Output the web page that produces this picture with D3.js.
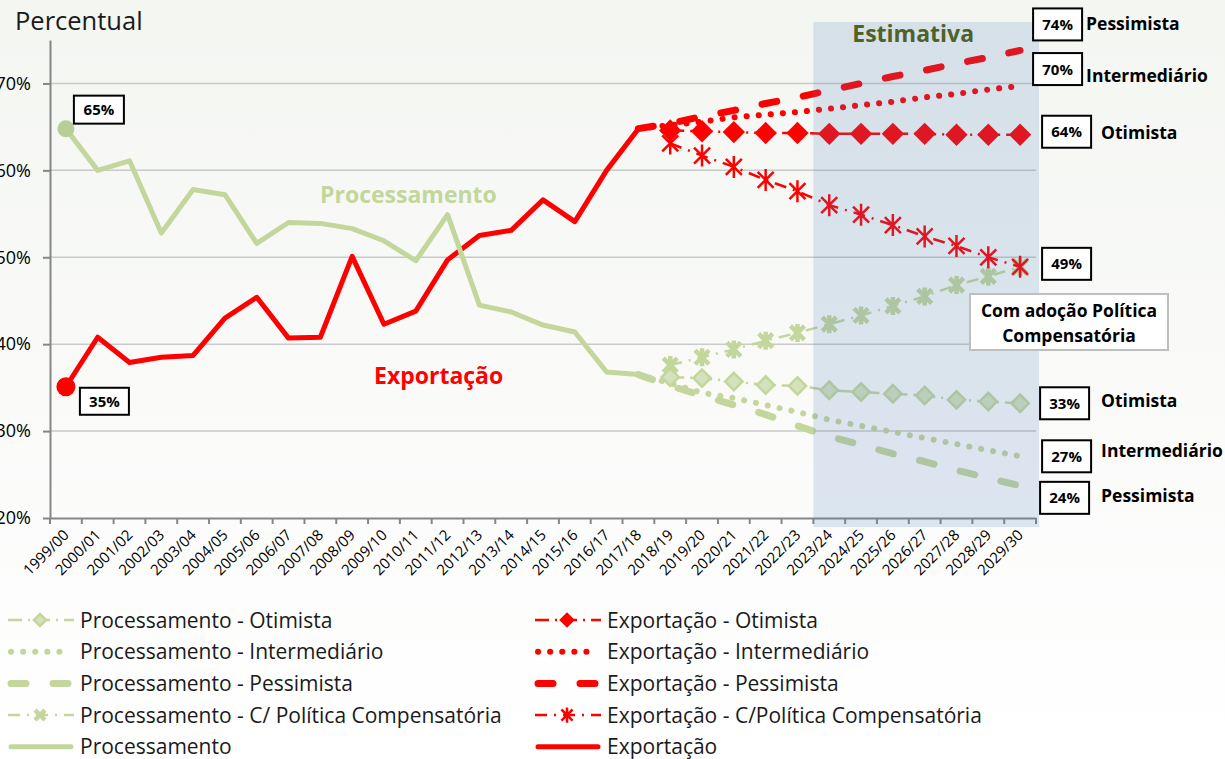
<!DOCTYPE html>
<html>
<head>
<meta charset="utf-8">
<script src="https://cdn.jsdelivr.net/npm/d3@7"></script>
<style>
  body { margin: 0; background: #fff; }
  svg { font-family: 'Open Sans', Lato, sans-serif; }
</style>
</head>
<body>
<script>
// categorias (safras)
var anos = ['1999/00', '2000/01', '2001/02', '2002/03', '2003/04', '2004/05', '2005/06', '2006/07',
  '2007/08', '2008/09', '2009/10', '2010/11', '2011/12', '2012/13', '2013/14', '2014/15', '2015/16',
  '2016/17', '2017/18', '2018/19', '2019/20', '2020/21', '2021/22', '2022/23', '2023/24', '2024/25',
  '2025/26', '2026/27', '2027/28', '2028/29', '2029/30'];

// historico 1999/00 - 2017/18 (%)
var processamento = [64.8, 60.0, 61.1, 52.8, 57.8, 57.2, 51.6, 54.0, 53.9, 53.3, 51.9, 49.6, 54.9, 44.5, 43.7, 42.2, 41.4, 36.8, 36.5];
var exportacao = [35.1, 40.8, 37.9, 38.5, 38.7, 43.0, 45.4, 40.7, 40.8, 50.1, 42.3, 43.8, 49.7, 52.5, 53.1, 56.6, 54.1, 60.0, 64.8];

// cenarios 2017/18 - 2029/30
var expIntermediario = [64.8, 65.2, 65.6, 66.1, 66.4, 66.7, 67.1, 67.5, 67.9, 68.4, 68.8, 69.3, 69.7];
var expPessimista = [64.8, 65.4, 66.2, 66.9, 67.7, 68.4, 69.2, 70.0, 70.8, 71.5, 72.3, 73.0, 73.8];
var procIntermediario = [36.5, 35.5, 34.4, 33.8, 33.0, 32.2, 31.3, 30.6, 29.9, 29.2, 28.5, 27.8, 27.1];
var procPessimista = [36.5, 35.2, 34.1, 33.0, 31.9, 30.6, 29.4, 28.4, 27.4, 26.5, 25.5, 24.6, 23.7];

// cenarios 2018/19 - 2029/30
var expOtimista = [64.6, 64.5, 64.4, 64.3, 64.3, 64.2, 64.2, 64.2, 64.2, 64.1, 64.1, 64.1];
var expCompensatoria = [63.1, 61.7, 60.4, 58.9, 57.6, 56.0, 54.9, 53.7, 52.4, 51.3, 50.0, 48.9];
var procOtimista = [36.2, 36.1, 35.7, 35.3, 35.2, 34.7, 34.5, 34.3, 34.1, 33.6, 33.4, 33.2];
var procCompensatoria = [37.6, 38.5, 39.4, 40.4, 41.3, 42.3, 43.3, 44.4, 45.5, 46.8, 47.8, 48.9];

var yTicks = [20, 30, 40, 50, 60, 70];

var w = 1225;
var h = 759;
var verde = '#c3d69b';
var vermelho = '#ff0000';

var estilos = {
  otimista: {dash: '14,6,2,6', width: 2.5, marker: 'diamante'},
  intermediario: {dash: '0.1,12', width: 6, cap: 'round'},
  pessimista: {dash: '15,27', width: 7, cap: 'round'},
  comp: {dash: '12,7,2,7', width: 2.5, marker: 'estrela'},
  historico: {dash: null, width: 5, cap: 'round'}
};

function pontos(valores, inicio) {
  var i0 = anos.indexOf(inicio);
  return valores.map(function(v, i) {
    return {ano: anos[i0 + i], valor: v};
  });
}

var series = [
  {valores: pontos(exportacao, '1999/00'), cor: vermelho, estilo: 'historico'},
  {valores: pontos(processamento, '1999/00'), cor: verde, estilo: 'historico'},
  {valores: pontos(procIntermediario, '2017/18'), cor: verde, estilo: 'intermediario'},
  {valores: pontos(procPessimista, '2017/18'), cor: verde, estilo: 'pessimista'},
  {valores: pontos(procCompensatoria, '2018/19'), cor: verde, estilo: 'comp'},
  {valores: pontos(procOtimista, '2018/19'), cor: verde, estilo: 'otimista'},
  {valores: pontos(expIntermediario, '2017/18'), cor: vermelho, estilo: 'intermediario'},
  {valores: pontos(expPessimista, '2017/18'), cor: vermelho, estilo: 'pessimista'},
  {valores: pontos(expCompensatoria, '2018/19'), cor: vermelho, estilo: 'comp'},
  {valores: pontos(expOtimista, '2018/19'), cor: vermelho, estilo: 'otimista'}
];

var svg = d3.select('body')
  .append('svg')
  .attr('width', w)
  .attr('height', h);

var grad = svg.append('defs').append('linearGradient')
  .attr('id', 'fundo').attr('x1', 0).attr('y1', 0).attr('x2', 0).attr('y2', 1);
grad.append('stop').attr('offset', '0%').attr('stop-color', '#f4f6f2');
grad.append('stop').attr('offset', '100%').attr('stop-color', '#ffffff');
svg.append('rect').attr('width', w).attr('height', h).attr('fill', 'url(#fundo)');

var x = d3.scaleBand().domain(anos).range([50, 1036]);
function cx(a) { return x(a) + x.bandwidth() / 2; }
var y = d3.scaleLinear().domain([20, 75]).range([518, 40]);

// titulo do eixo
svg.append('text')
  .attr('x', 15).attr('y', 30)
  .attr('font-size', '25.5px')
  .attr('fill', '#1a1a1a')
  .text('Percentual');

// grade
svg.append('g').selectAll('line')
  .data(yTicks.slice(1))
  .enter()
  .append('line')
  .attr('x1', 50).attr('x2', 1036)
  .attr('y1', function(d) { return y(d); })
  .attr('y2', function(d) { return y(d); })
  .attr('stroke', '#c9c9c9')
  .attr('stroke-width', 1.5);

// eixo y
var yAxis = d3.axisLeft(y)
  .tickValues(yTicks)
  .tickFormat(function(d) { return d + '%'; })
  .tickSize(7).tickSizeOuter(0).tickPadding(12);
var gy = svg.append('g').attr('transform', 'translate(50,0)').call(yAxis);
gy.attr('font-size', 18).attr('font-family', null);
gy.select('.domain').attr('stroke', '#868686').attr('stroke-width', 2);
gy.selectAll('.tick line').attr('stroke', '#868686').attr('stroke-width', 2);
gy.selectAll('.tick text').attr('fill', '#000');

// eixo x
var xAxis = d3.axisBottom(x).tickSize(0).tickSizeOuter(0).tickPadding(0);
var gx = svg.append('g').attr('transform', 'translate(0,518)').call(xAxis);
gx.attr('font-size', 15).attr('font-family', null);
gx.select('.domain').attr('stroke', '#868686').attr('stroke-width', 2);
gx.selectAll('.tick text')
  .attr('y', 0).attr('dy', 0)
  .attr('fill', '#000')
  .attr('transform', 'translate(4,18) rotate(-45)')
  .style('text-anchor', 'end');
gx.selectAll('.marca')
  .data(d3.range(anos.length + 1))
  .enter()
  .append('line')
  .attr('class', 'marca')
  .attr('x1', function(i) { return x.range()[0] + i * x.step(); })
  .attr('x2', function(i) { return x.range()[0] + i * x.step(); })
  .attr('y1', 0).attr('y2', 6)
  .attr('stroke', '#868686')
  .attr('stroke-width', 2);

// marcadores
function marcador(g, tipo, cor, escala) {
  if (tipo === 'diamante') {
    var verm = cor === vermelho;
    g.append('path')
      .attr('d', d3.symbol().type(d3.symbolSquare).size((verm ? 250 : 150) * escala * escala)())
      .attr('transform', 'rotate(45)')
      .attr('fill', verm ? vermelho : '#d3e1bc')
      .attr('stroke', verm ? 'none' : verde)
      .attr('stroke-width', 2.5);
  } else if (tipo === 'estrela') {
    var s = (cor === vermelho ? 8 : 7) * escala;
    var v = (cor === vermelho ? 11 : 9) * escala;
    var d = 'M' + (-s) + ',' + (-s) + 'L' + s + ',' + s + 'M' + (-s) + ',' + s + 'L' + s + ',' + (-s);
    if (escala === 1 || cor === vermelho) d += 'M0,' + (-v) + 'L0,' + v;
    g.append('path')
      .attr('d', d)
      .attr('fill', 'none')
      .attr('stroke', cor)
      .attr('stroke-width', cor === vermelho ? 2.5 : 4.5);
  }
}

var linha = d3.line()
  .x(function(d) { return cx(d.ano); })
  .y(function(d) { return y(d.valor); });

var gSeries = svg.append('g');
series.forEach(function(s) {
  var e = estilos[s.estilo];
  gSeries.append('path')
    .datum(s.valores)
    .attr('d', linha)
    .attr('fill', 'none')
    .attr('stroke', s.cor)
    .attr('stroke-width', e.width)
    .attr('stroke-dasharray', e.dash)
    .attr('stroke-linecap', e.cap || 'butt')
    .attr('stroke-linejoin', 'round');
  if (e.marker) {
    gSeries.append('g').selectAll('g')
      .data(s.valores)
      .enter()
      .append('g')
      .attr('transform', function(d) { return 'translate(' + cx(d.ano) + ',' + y(d.valor) + ')'; })
      .each(function() { marcador(d3.select(this), e.marker, s.cor, 1); });
  }
});

// primeiro ponto
gSeries.append('circle')
  .attr('cx', cx(anos[0])).attr('cy', y(processamento[0]))
  .attr('r', 8.5).attr('fill', '#b9cd97');
gSeries.append('circle')
  .attr('cx', cx(anos[0])).attr('cy', y(exportacao[0]))
  .attr('r', 9.5).attr('fill', vermelho);

// area de estimativa
var x0Est = x('2023/24');
var x1Est = x.range()[1] + 3;
svg.append('rect')
  .attr('x', x0Est).attr('y', 22)
  .attr('width', x1Est - x0Est).attr('height', 505)
  .attr('fill', '#4f81bd')
  .attr('fill-opacity', 0.18);
svg.append('text')
  .attr('x', (x0Est + x1Est) / 2 - 13).attr('y', 42)
  .attr('text-anchor', 'middle')
  .attr('font-size', '23px')
  .attr('font-weight', 'bold')
  .attr('fill', '#4f6228')
  .text('Estimativa');

// nomes das series
svg.append('text')
  .attr('x', 320).attr('y', 203)
  .attr('font-size', '23px').attr('font-weight', 'bold')
  .attr('fill', verde)
  .text('Processamento');
svg.append('text')
  .attr('x', 374).attr('y', 384)
  .attr('font-size', '23px').attr('font-weight', 'bold')
  .attr('fill', vermelho)
  .text('Exportação');

// caixas de valores
function caixa(bx, by, bw, bh, texto) {
  svg.append('rect')
    .attr('x', bx).attr('y', by).attr('width', bw).attr('height', bh)
    .attr('fill', '#fff').attr('stroke', '#000').attr('stroke-width', 2);
  svg.append('text')
    .attr('x', bx + bw / 2).attr('y', by + bh / 2 + 5.5)
    .attr('text-anchor', 'middle')
    .attr('font-size', '15px').attr('font-weight', 'bold')
    .attr('fill', '#000')
    .text(texto);
}

caixa(cx(anos[0]) + 8, y(processamento[0]) - 33, 50, 28, Math.round(processamento[0]) + '%');
caixa(cx(anos[0]) + 14, y(exportacao[0]) + 1, 49, 27, Math.round(exportacao[0]) + '%');

var rotulos = [
  {valores: expPessimista, nome: 'Pessimista', dx: 13, dy: -26, tx: 4, ty: 6},
  {valores: expIntermediario, nome: 'Intermediário', dx: 13, dy: -17, tx: 4, ty: 13},
  {valores: expOtimista, nome: 'Otimista', dx: 22, dy: -3, tx: 10, ty: 7},
  {valores: expCompensatoria, nome: null, dx: 22, dy: -3},
  {valores: procOtimista, nome: 'Otimista', dx: 20, dy: 0, tx: 12, ty: 3.5},
  {valores: procIntermediario, nome: 'Intermediário', dx: 22, dy: 0, tx: 10, ty: 0.5},
  {valores: procPessimista, nome: 'Pessimista', dx: 20, dy: 12, tx: 12, ty: 4}
];
var xFim = cx(anos[anos.length - 1]);
rotulos.forEach(function(r) {
  var v = r.valores[r.valores.length - 1];
  var bx = xFim + r.dx;
  var by = y(v) + r.dy - 16;
  caixa(bx, by, 49, 32, Math.round(v) + '%');
  if (r.nome) {
    svg.append('text')
      .attr('x', bx + 49 + r.tx).attr('y', y(v) + r.dy + r.ty)
      .attr('font-size', '17.5px').attr('font-weight', 'bold')
      .attr('fill', '#000')
      .text(r.nome);
  }
});

svg.append('rect')
  .attr('x', 970).attr('y', 294).attr('width', 198).attr('height', 56)
  .attr('fill', '#fff').attr('stroke', '#bfbfbf').attr('stroke-width', 2);
svg.append('text')
  .attr('x', 1069).attr('y', 317)
  .attr('text-anchor', 'middle')
  .attr('font-size', '17.5px').attr('font-weight', 'bold')
  .attr('fill', '#000')
  .selectAll('tspan')
  .data(['Com adoção Política', 'Compensatória'])
  .enter()
  .append('tspan')
  .attr('x', 1069)
  .attr('dy', function(d, i) { return i === 0 ? 0 : 25; })
  .text(function(d) { return d; });

// legenda
var legenda = [
  {nome: 'Processamento - Otimista', cor: verde, estilo: 'otimista'},
  {nome: 'Processamento - Intermediário', cor: verde, estilo: 'intermediario'},
  {nome: 'Processamento - Pessimista', cor: verde, estilo: 'pessimista'},
  {nome: 'Processamento - C/ Política Compensatória', cor: verde, estilo: 'comp'},
  {nome: 'Processamento', cor: verde, estilo: 'historico'},
  {nome: 'Exportação - Otimista', cor: vermelho, estilo: 'otimista'},
  {nome: 'Exportação - Intermediário', cor: vermelho, estilo: 'intermediario'},
  {nome: 'Exportação - Pessimista', cor: vermelho, estilo: 'pessimista'},
  {nome: 'Exportação - C/Política Compensatória', cor: vermelho, estilo: 'comp'},
  {nome: 'Exportação', cor: vermelho, estilo: 'historico'}
];

var itens = svg.append('g').selectAll('g')
  .data(legenda)
  .enter()
  .append('g')
  .attr('transform', function(d, i) {
    return 'translate(' + (i < 5 ? 8 : 535) + ',' + (620 + (i % 5) * 31.7) + ')';
  });

itens.each(function(d) {
  var g = d3.select(this);
  var e = estilos[d.estilo];
  var x1 = e.cap === 'round' ? 3 : 0;
  g.append('line')
    .attr('x1', x1).attr('x2', 66 - x1)
    .attr('y1', 0).attr('y2', 0)
    .attr('stroke', d.cor)
    .attr('stroke-width', e.width)
    .attr('stroke-dasharray', e.dash)
    .attr('stroke-linecap', e.cap || 'butt');
  if (e.marker) {
    var m = g.append('g').attr('transform', 'translate(32,0)');
    marcador(m, e.marker, d.cor, 0.7);
  }
  g.append('text')
    .attr('x', 72).attr('y', 7.5)
    .attr('font-size', '21px')
    .attr('fill', '#1a1a1a')
    .text(d.nome);
});
</script>
</body>
</html>
